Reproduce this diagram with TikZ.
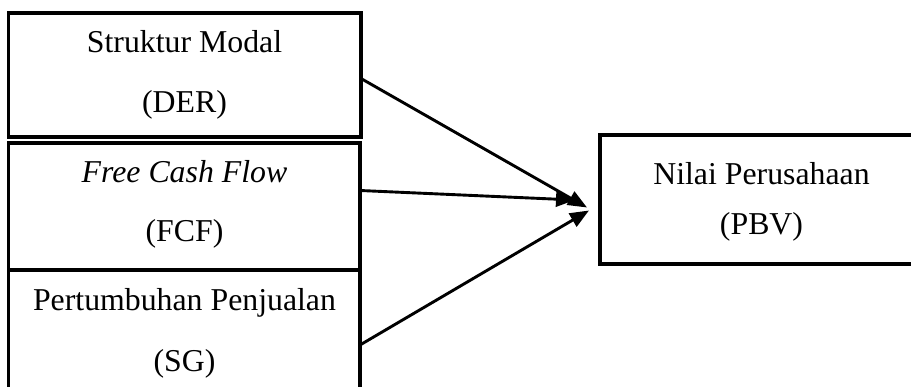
\documentclass[tikz,border=0pt]{standalone}
\usepackage{fontspec}
\setmainfont{Liberation Serif}
\usetikzlibrary{arrows.meta}
\begin{document}
\begin{tikzpicture}[x=1pt,y=-1pt,
  box/.style={draw=black,line width=3.2pt,anchor=north west,inner sep=0pt,outer sep=0pt},
  txt/.style={anchor=base,inner sep=0pt,font=\fontsize{31.8}{36}\selectfont},
  conn/.style={line width=2.9pt,-{Triangle[length=19pt,width=15pt]}}]
\useasboundingbox (0,0) rectangle (911,387);
\node[box,minimum width=352.5pt,minimum height=124pt] (b1) at (8.5,13) {};
\node[box,minimum width=351.5pt,minimum height=127pt] (b2) at (8.5,143) {};
\node[box,minimum width=351.5pt,minimum height=140pt] (b3) at (8.5,270) {};
\node[box,minimum width=325pt,minimum height=129pt] (b4) at (600,135) {};
\node[txt] (t1a) at (184.5,53) {Struktur Modal};
\node[txt] (t1b) at (184.5,113) {(DER)};
\node[txt] (t2a) at (184.5,183) {\itshape Free Cash Flow};
\node[txt] (t2b) at (184.5,242) {(FCF)};
\node[txt] (t3a) at (184.5,311) {Pertumbuhan Penjualan};
\node[txt] (t3b) at (184.5,372) {(SG)};
\node[txt] (t4a) at (761.5,185) {Nilai Perusahaan};
\node[txt] (t4b) at (761.5,235) {(PBV)};
\coordinate (e1) at (587,207.5);
\coordinate (e2) at (575,200);
\coordinate (e3) at (589,210.5);
\draw[conn] ([yshift=-3.5pt]b1.east) -- (e1);
\draw[conn] ([yshift=16pt]b2.east) -- (e2);
\draw[conn] ([yshift=-5pt]b3.east) -- (e3);
\end{tikzpicture}
\end{document}
